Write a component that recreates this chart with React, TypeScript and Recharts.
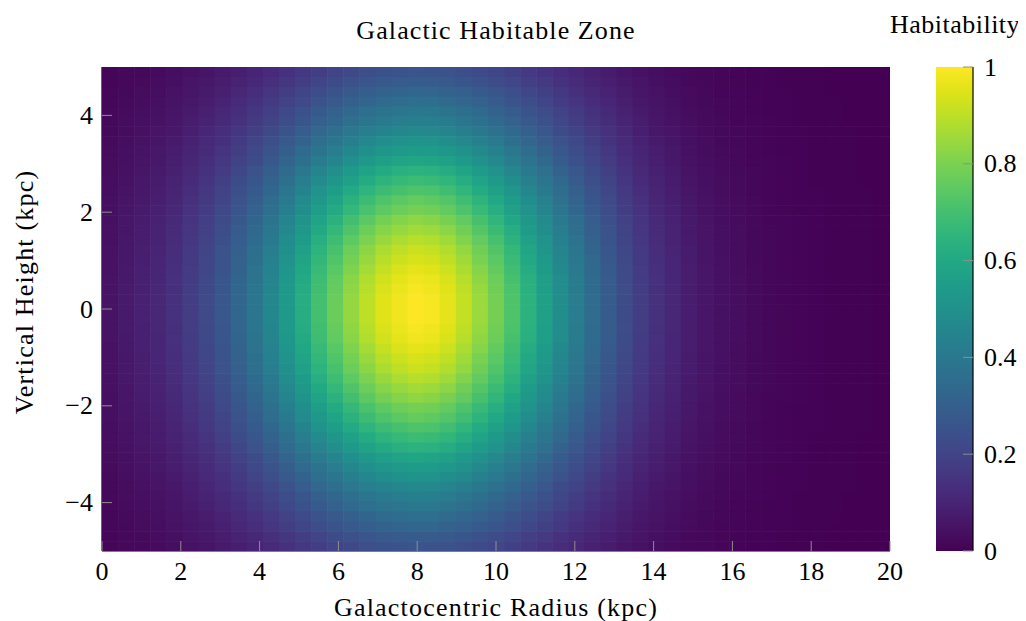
import React from 'react';
import { ScatterChart, Scatter, XAxis, YAxis, ReferenceArea } from 'recharts';

// ---------- data ----------
const xTicks = [0, 2, 4, 6, 8, 10, 12, 14, 16, 18, 20];
const yTicks = [-4, -2, 0, 2, 4];
const colorbarTicks = [0, 0.2, 0.4, 0.6, 0.8, 1];

// habitability along the radius (49 cells, 0 -> 20 kpc), read along the mid-plane row
const radialProfile = [
  0.05, 0.07, 0.09, 0.11, 0.14, 0.18, 0.22, 0.27, 0.33, 0.39,
  0.46, 0.54, 0.62, 0.70, 0.77, 0.84, 0.90, 0.95, 0.98, 1.0,
  0.99, 0.96, 0.91, 0.85, 0.79, 0.72, 0.64, 0.57, 0.49, 0.42,
  0.35, 0.29, 0.23, 0.18, 0.14, 0.11, 0.08, 0.06, 0.045, 0.035,
  0.025, 0.018, 0.013, 0.009, 0.006, 0.004, 0.003, 0.002, 0.001,
];

// habitability factor along the height (49 cells, top +5 -> bottom -5 kpc), read along the 8 kpc column
const verticalProfile = [
  0.26, 0.29, 0.33, 0.36, 0.40, 0.43, 0.47, 0.51, 0.55, 0.59,
  0.64, 0.68, 0.72, 0.76, 0.79, 0.83, 0.86, 0.89, 0.92, 0.94,
  0.96, 0.98, 0.99, 1.0, 1.0, 1.0, 0.99, 0.98, 0.96, 0.94,
  0.92, 0.89, 0.86, 0.83, 0.79, 0.76, 0.72, 0.68, 0.64, 0.59,
  0.55, 0.51, 0.47, 0.43, 0.40, 0.36, 0.33, 0.29, 0.26,
];

const X_MIN = 0;
const X_MAX = 20;
const Y_MIN = -5;
const Y_MAX = 5;
const NX = radialProfile.length;
const NY = verticalProfile.length;

const cells: { x: number; y: number; v: number; i: number; j: number }[] = [];
for (let j = 0; j < NY; j++) {
  for (let i = 0; i < NX; i++) {
    cells.push({
      x: X_MIN + ((i + 0.5) * (X_MAX - X_MIN)) / NX,
      y: Y_MAX - ((j + 0.5) * (Y_MAX - Y_MIN)) / NY,
      v: radialProfile[i] * verticalProfile[j],
      i,
      j,
    });
  }
}

// ---------- viridis colour map ----------
const viridisStops = [
  '#440154', '#471365', '#482475', '#463480', '#414487', '#3b528b', '#355f8d',
  '#2f6c8e', '#2a788e', '#25848e', '#21918c', '#1e9c89', '#22a884', '#2fb47c',
  '#44bf70', '#5ec962', '#7ad151', '#9bd93c', '#bddf26', '#dfe318', '#fde725',
];
const hex = (h: string) => [1, 3, 5].map((k) => parseInt(h.slice(k, k + 2), 16));
const viridis = (t: number) => {
  const c = Math.max(0, Math.min(1, t)) * (viridisStops.length - 1);
  const k = Math.min(Math.floor(c), viridisStops.length - 2);
  const f = c - k;
  const a = hex(viridisStops[k]);
  const b = hex(viridisStops[k + 1]);
  const m = a.map((v, n) => Math.round(v + (b[n] - v) * f));
  return `rgb(${m[0]},${m[1]},${m[2]})`;
};

// ---------- layout ----------
const FONT = '"Liberation Serif", "DejaVu Serif", "Times New Roman", serif';
const FS = 26;
const SVG_H = 613;
const MAIN_W = 900;
const MARGIN = { top: 59, right: 18, bottom: 30, left: 0 };
const X_AXIS_H = 40;
const Y_AXIS_W = 94;
const PLOT_W = MAIN_W - MARGIN.left - MARGIN.right - Y_AXIS_W;
const PLOT_H = SVG_H - MARGIN.top - MARGIN.bottom - X_AXIS_H;
const CW = PLOT_W / NX;
const CH = PLOT_H / NY;
const TICK_LEN = 10;
const TICK_COLOR = '#8f8f8f';
const AXIS_LINE = { stroke: '#000', strokeWidth: 1.2 };

const fmt = (v: number) => String(v).replace('-', '\u2212');

const HeatCell = (props: any) => {
  const { cx, cy, payload } = props;
  const w = CW + (payload.i < NX - 1 ? 0.6 : 0);
  const h = CH + (payload.j < NY - 1 ? 0.6 : 0);
  return <rect x={cx - CW / 2} y={cy - CH / 2} width={w} height={h} fill={viridis(payload.v)} />;
};

const BottomTick = (props: any) => {
  const { x, y, payload } = props;
  return (
    <g>
      <line x1={x} y1={y} x2={x} y2={y - TICK_LEN} stroke={TICK_COLOR} strokeWidth={1} />
      <text x={x} y={y + 29} textAnchor="middle" fontFamily={FONT} fontSize={FS} fill="#000">
        {fmt(payload.value)}
      </text>
    </g>
  );
};
const TopTick = (props: any) => {
  const { x, y } = props;
  return <line x1={x} y1={y} x2={x} y2={y + TICK_LEN} stroke={TICK_COLOR} strokeWidth={1} />;
};
const LeftTick = (props: any) => {
  const { x, y, payload } = props;
  return (
    <g>
      <line x1={x} y1={y} x2={x + TICK_LEN} y2={y} stroke={TICK_COLOR} strokeWidth={1} />
      <text x={x - 9} y={y + 8.5} textAnchor="end" fontFamily={FONT} fontSize={FS} fill="#000">
        {fmt(payload.value)}
      </text>
    </g>
  );
};
const RightTick = (props: any) => {
  const { x, y } = props;
  return <line x1={x} y1={y} x2={x - TICK_LEN} y2={y} stroke={TICK_COLOR} strokeWidth={1} />;
};
const CbRightTick = (props: any) => {
  const { x, y, payload } = props;
  return (
    <g>
      <line x1={x} y1={y} x2={x - TICK_LEN} y2={y} stroke={TICK_COLOR} strokeWidth={1} />
      <text x={x + 11} y={y + 8.5} textAnchor="start" fontFamily={FONT} fontSize={FS} fill="#000">
        {fmt(payload.value)}
      </text>
    </g>
  );
};

// colour bar chart layout
const CB_LEFT = 860;
const CB_W = 158;
const CB_PLOT_W = 37;
const CB_MARGIN = { top: 59, right: 0, bottom: SVG_H - 59 - PLOT_H, left: 68 };

export default function App() {
  const plotCx = MARGIN.left + Y_AXIS_W + PLOT_W / 2;
  return (
    <div style={{ position: 'relative', width: CB_LEFT + CB_W, height: SVG_H, fontFamily: FONT }}>
      <div style={{ position: 'absolute', left: 0, top: 0 }}>
        <ScatterChart width={MAIN_W} height={SVG_H} margin={MARGIN}>
          <Scatter data={cells} dataKey="y" shape={HeatCell} isAnimationActive={false} />
          <XAxis
            type="number"
            dataKey="x"
            domain={[X_MIN, X_MAX]}
            ticks={xTicks}
            interval={0}
            height={X_AXIS_H}
            tickSize={0}
            tickMargin={0}
            tickLine={false}
            axisLine={AXIS_LINE}
            tick={BottomTick}
            allowDataOverflow
          />
          <XAxis
            xAxisId="top"
            orientation="top"
            type="number"
            domain={[X_MIN, X_MAX]}
            ticks={xTicks}
            interval={0}
            height={0}
            tickSize={0}
            tickMargin={0}
            tickLine={false}
            axisLine={AXIS_LINE}
            tick={TopTick}
            allowDataOverflow
          />
          <YAxis
            type="number"
            dataKey="y"
            domain={[Y_MIN, Y_MAX]}
            ticks={yTicks}
            interval={0}
            width={Y_AXIS_W}
            tickSize={0}
            tickMargin={0}
            tickLine={false}
            axisLine={AXIS_LINE}
            tick={LeftTick}
            allowDataOverflow
          />
          <YAxis
            yAxisId="right"
            orientation="right"
            type="number"
            domain={[Y_MIN, Y_MAX]}
            ticks={yTicks}
            interval={0}
            width={0}
            tickSize={0}
            tickMargin={0}
            tickLine={false}
            axisLine={AXIS_LINE}
            tick={RightTick}
            allowDataOverflow
          />
          <text x={plotCx} y={31} textAnchor="middle" fontFamily={FONT} fontSize={FS} letterSpacing={1.1} fill="#000">
            Galactic Habitable Zone
          </text>
          <text x={plotCx} y={608} textAnchor="middle" fontFamily={FONT} fontSize={FS} letterSpacing={1.2} fill="#000">
            Galactocentric Radius (kpc)
          </text>
          <text
            x={0}
            y={0}
            transform={`translate(25, 284) rotate(-90)`}
            textAnchor="middle"
            fontFamily={FONT}
            fontSize={FS}
            letterSpacing={1.2}
            fill="#000"
          >
            Vertical Height (kpc)
          </text>
        </ScatterChart>
      </div>
      <div style={{ position: 'absolute', left: CB_LEFT, top: 0 }}>
        <ScatterChart width={CB_W} height={SVG_H} margin={CB_MARGIN}>
          <defs>
            <linearGradient id="cbGrad" x1="0" y1="1" x2="0" y2="0">
              {viridisStops.map((c, k) => (
                <stop key={k} offset={k / (viridisStops.length - 1)} stopColor={c} />
              ))}
            </linearGradient>
          </defs>
          <ReferenceArea x1={0} x2={1} y1={0} y2={1} fill="url(#cbGrad)" fillOpacity={1} stroke="none" />
          <Scatter data={[{ x: 0.5, y: 0.5 }]} dataKey="y" shape={() => <g />} isAnimationActive={false} />
          <XAxis type="number" dataKey="x" domain={[0, 1]} height={0} tick={false} tickLine={false} axisLine={AXIS_LINE} />
          <XAxis xAxisId="top" orientation="top" type="number" domain={[0, 1]} height={0} tick={false} tickLine={false} axisLine={AXIS_LINE} />
          <YAxis
            orientation="right"
            type="number"
            dataKey="y"
            domain={[0, 1]}
            ticks={colorbarTicks}
            interval={0}
            width={CB_W - CB_MARGIN.left - CB_PLOT_W}
            tickSize={0}
            tickMargin={0}
            tickLine={false}
            axisLine={AXIS_LINE}
            tick={CbRightTick}
          />
          <YAxis
            yAxisId="left"
            orientation="left"
            type="number"
            domain={[0, 1]}
            ticks={colorbarTicks}
            interval={0}
            width={0}
            tickSize={0}
            tickMargin={0}
            tickLine={false}
            axisLine={AXIS_LINE}
            tick={(p: any) => <line x1={p.x} y1={p.y} x2={p.x + TICK_LEN} y2={p.y} stroke={TICK_COLOR} strokeWidth={1} />}
          />
          <text x={87} y={25} textAnchor="middle" fontFamily={FONT} fontSize={FS} letterSpacing={0.5} fill="#000">
            Habitability
          </text>
        </ScatterChart>
      </div>
    </div>
  );
}
